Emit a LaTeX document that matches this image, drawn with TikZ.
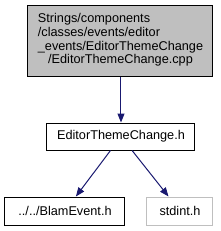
\documentclass[tikz,border=0pt]{standalone}
\usepackage{fontspec}
\setmainfont{Liberation Sans}
\usetikzlibrary{arrows.meta}

\definecolor{edgeblue}{HTML}{191970}
\definecolor{boxgray}{HTML}{BFBFBF}

\tikzset{
  file/.style={draw=black, line width=1pt, inner sep=0pt, font=\fontsize{12.7}{14.3}\selectfont},
  sysfile/.style={file, draw=boxgray},
  dep/.style={draw=edgeblue, line width=1pt, -{Triangle[length=9pt, width=7pt]}}
}

\begin{document}
\begin{tikzpicture}[x=1pt, y=-1pt]
				% Frame
				\useasboundingbox (0,0) rectangle (221,231);
				% Files
				\node[file, fill=boxgray, minimum width=185pt, minimum height=71pt] (cpp) at (120.5,40.5)
					{\renewcommand{\arraystretch}{0.95}\begin{tabular}{@{}l@{}}
					Strings/components\\
					/classes/events/editor\\
					\_events/EditorThemeChange\\
					\multicolumn{1}{@{}c@{}}{/EditorThemeChange.cpp}
					\end{tabular}};
				\node[file, minimum width=148pt, minimum height=27pt] (hdr) at (121,136.5) {EditorThemeChange.h};
				\node[file, minimum width=120pt, minimum height=28pt] (blam) at (65,211) {../../BlamEvent.h};
				\node[sysfile, minimum width=66pt, minimum height=28pt] (stdint) at (180,211) {stdint.h};
				% Includes
				\draw[dep] (cpp.south -| hdr.north) -- (hdr.north);
				\draw[dep] (hdr) -- (blam);
				\draw[dep] (hdr) -- (stdint);
			\end{tikzpicture}
\end{document}
